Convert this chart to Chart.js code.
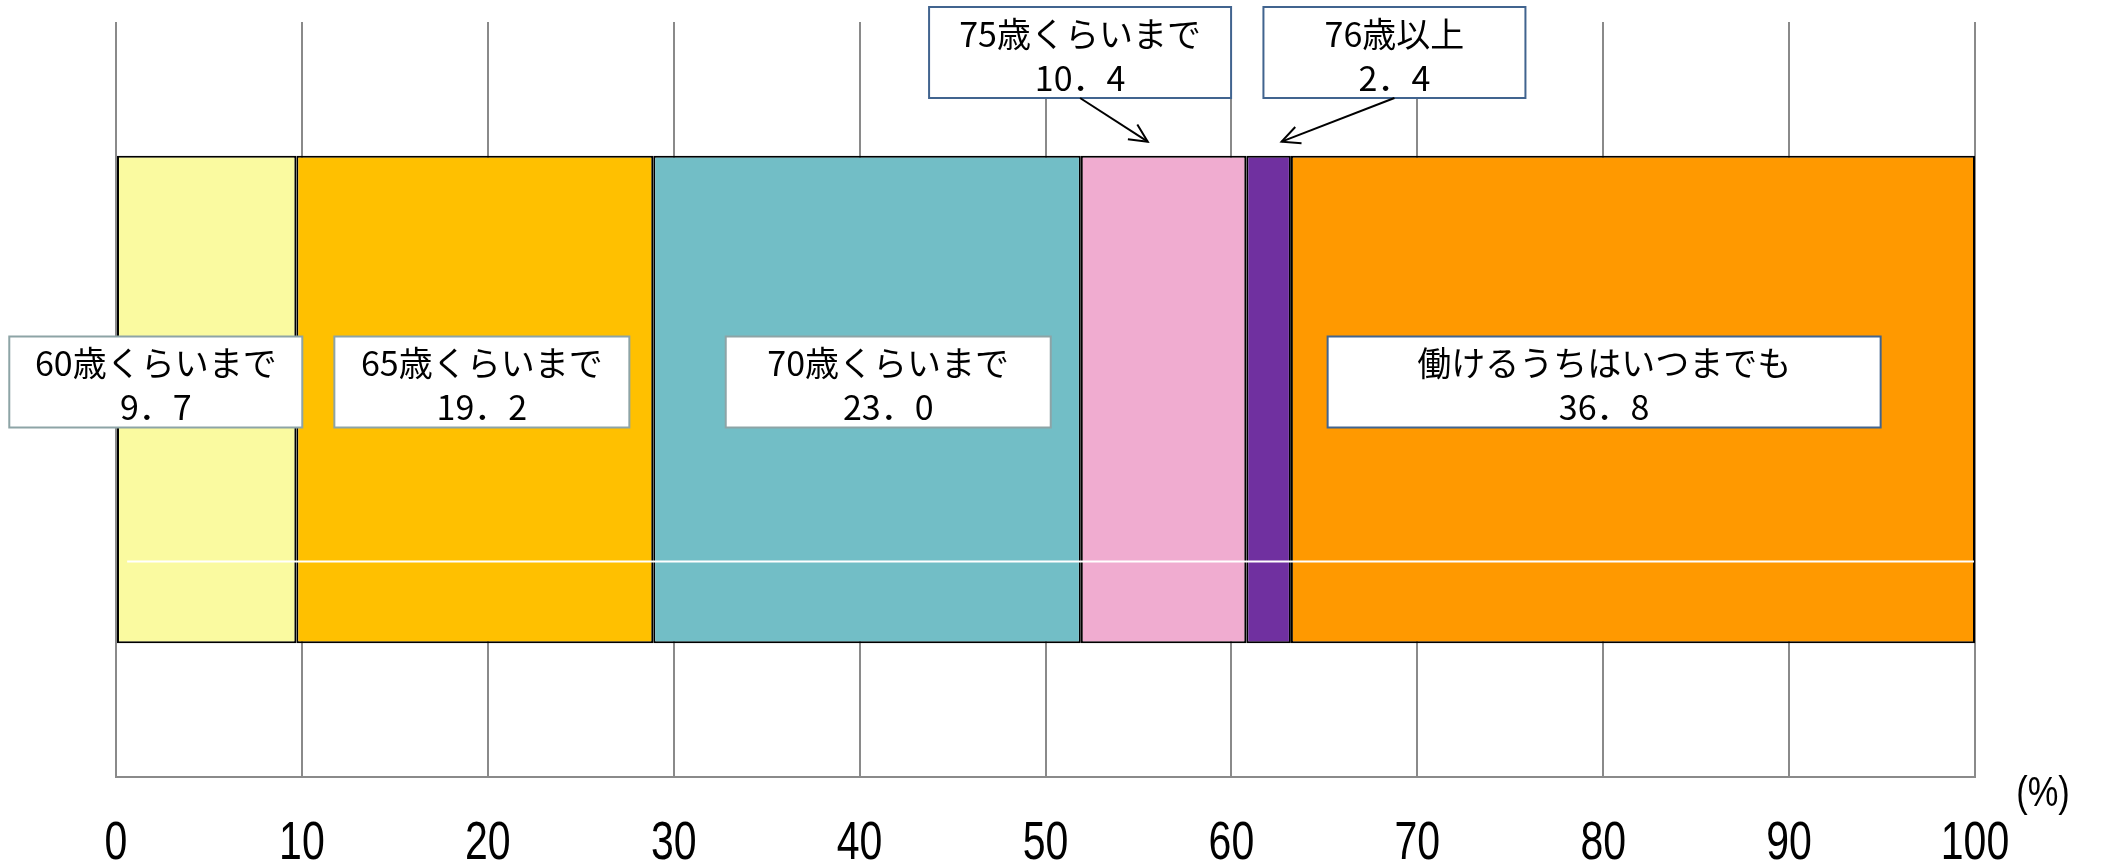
<!DOCTYPE html>
<html>
<head>
<meta charset="utf-8">
<script src="https://cdn.jsdelivr.net/npm/chart.js@4/dist/chart.umd.min.js"></script>
<style>
  html, body { margin: 0; padding: 0; background: #fff; }
  #wrap { width: 2101px; height: 861px; }
</style>
</head>
<body>
<div id="wrap"><canvas id="chart" width="2101" height="861"></canvas></div>
<script>
// ── Dados
const categorias  = ['60歳くらいまで', '65歳くらいまで', '70歳くらいまで', '75歳くらいまで', '76歳以上', '働けるうちはいつまでも'];
const rotulos     = ['9．7', '19．2', '23．0', '10．4', '2．4', '36．8'];
// larguras como desenhadas no gráfico original (a faixa de 75歳 aparece mais estreita que o rótulo)
const larguras    = [9.7, 19.2, 23.0, 8.9, 2.4, 36.8];
const xTicks      = [0, 10, 20, 30, 40, 50, 60, 70, 80, 90, 100];

const cores = ['#FAFAA0', '#FFC000', '#72BEC6', '#F0ACD0', '#7030A0', '#FF9900'];

// ── Caixas de rótulo: centro (em % do eixo), largura, linha, cor da borda, seta
const caixas = [
  { c: 2.14,  w: 293, row: 'in',  bord: '#8DA4A6' },
  { c: 19.68, w: 295, row: 'in',  bord: '#8DA4A6' },
  { c: 41.54, w: 325, row: 'in',  bord: '#8DA4A6' },
  { c: 51.86, w: 302, row: 'top', bord: '#41648F', seta: 55.5 },
  { c: 68.77, w: 262, row: 'top', bord: '#41648F', seta: 62.7 },
  { c: 80.05, w: 553, row: 'in',  bord: '#41648F' }
];

const JP  = '"Noto Sans CJK JP", "Noto Sans", sans-serif';
const LAT = '"Liberation Sans", Arial, sans-serif';

const anotacoes = {
  id: 'anotacoes',
  afterDatasetsDraw(chart) {
    const ctx = chart.ctx, x = chart.scales.x;
    const meta = chart.getDatasetMeta(0).data[0];
    const barTop = meta.y - meta.height / 2, barBot = meta.y + meta.height / 2;

    // linha branca fina atravessando a barra
    ctx.save();
    ctx.strokeStyle = '#ffffff';
    ctx.lineWidth = 2;
    const yl = barTop + (barBot - barTop) * 0.832;
    ctx.beginPath();
    ctx.moveTo(x.getPixelForValue(0.6), yl);
    ctx.lineTo(x.getPixelForValue(100) - 1, yl);
    ctx.stroke();
    ctx.restore();
  },
  afterDraw(chart) {
    const ctx = chart.ctx, x = chart.scales.x, ca = chart.chartArea;
    const meta = chart.getDatasetMeta(0).data[0];
    const barTop = meta.y - meta.height / 2;
    const H = 91;

    // rótulos do eixo x (fonte estreita: escala horizontal)
    ctx.save();
    ctx.fillStyle = '#000';
    ctx.font = '54px ' + LAT;
    ctx.textAlign = 'center';
    ctx.textBaseline = 'alphabetic';
    xTicks.forEach(v => {
      const px = x.getPixelForValue(v);
      ctx.save();
      ctx.translate(px, 859);
      ctx.scale(0.76, 1);
      ctx.fillText(String(v), 0, 0);
      ctx.restore();
    });
    // unidade (%)
    ctx.font = '42px ' + LAT;
    ctx.textBaseline = 'middle';
    ctx.translate(ca.right + 68, ca.bottom + 17);
    ctx.scale(0.82, 1);
    ctx.fillText('(%)', 0, 0);
    ctx.restore();

    caixas.forEach((b, i) => {
      const cx = x.getPixelForValue(b.c);
      const top = b.row === 'in' ? meta.y - 63 : ca.top - 15;
      const left = cx - b.w / 2;

      ctx.save();
      ctx.fillStyle = '#ffffff';
      ctx.fillRect(left, top, b.w, H);
      ctx.strokeStyle = b.bord;
      ctx.lineWidth = 2;
      ctx.strokeRect(left, top, b.w, H);

      ctx.fillStyle = '#000';
      ctx.textAlign = 'center';
      ctx.textBaseline = 'middle';
      ctx.font = '34px ' + JP;
      ctx.fillText(categorias[i], cx, top + 27);
      ctx.fillText(rotulos[i], cx, top + 71);

      if (b.seta != null) {
        const x0 = cx, y0 = top + H;
        const x1 = x.getPixelForValue(b.seta), y1 = barTop - 14;
        const ang = Math.atan2(y1 - y0, x1 - x0);
        ctx.strokeStyle = '#000';
        ctx.lineWidth = 2;
        ctx.beginPath();
        ctx.moveTo(x0, y0);
        ctx.lineTo(x1, y1);
        ctx.stroke();
        ctx.beginPath();
        ctx.moveTo(x1 - 20 * Math.cos(ang - 0.45), y1 - 20 * Math.sin(ang - 0.45));
        ctx.lineTo(x1, y1);
        ctx.lineTo(x1 - 20 * Math.cos(ang + 0.45), y1 - 20 * Math.sin(ang + 0.45));
        ctx.stroke();
      }
      ctx.restore();
    });
  }
};

new Chart(document.getElementById('chart').getContext('2d'), {
  type: 'bar',
  data: {
    labels: [''],
    datasets: larguras.map((v, i) => ({
      label: categorias[i],
      data: [v],
      backgroundColor: cores[i],
      borderColor: '#000000',
      borderWidth: 2,
      borderSkipped: false,
      barPercentage: 0.646,
      categoryPercentage: 1
    }))
  },
  options: {
    indexAxis: 'y',
    responsive: false,
    animation: false,
    layout: { padding: { left: 116, right: 126, top: 22, bottom: 0 } },
    plugins: { legend: { display: false }, tooltip: { enabled: false } },
    scales: {
      x: {
        stacked: true,
        min: 0, max: 100,
        afterBuildTicks: s => { s.ticks = xTicks.map(v => ({ value: v })); },
        afterFit: s => { s.height = 84; },
        ticks: { display: false },
        grid: { color: '#8a8a8a', lineWidth: 2, drawTicks: false },
        border: { display: true, color: '#8a8a8a', width: 2 }
      },
      y: { stacked: true, display: false }
    }
  },
  plugins: [anotacoes]
});
</script>
</body>
</html>
